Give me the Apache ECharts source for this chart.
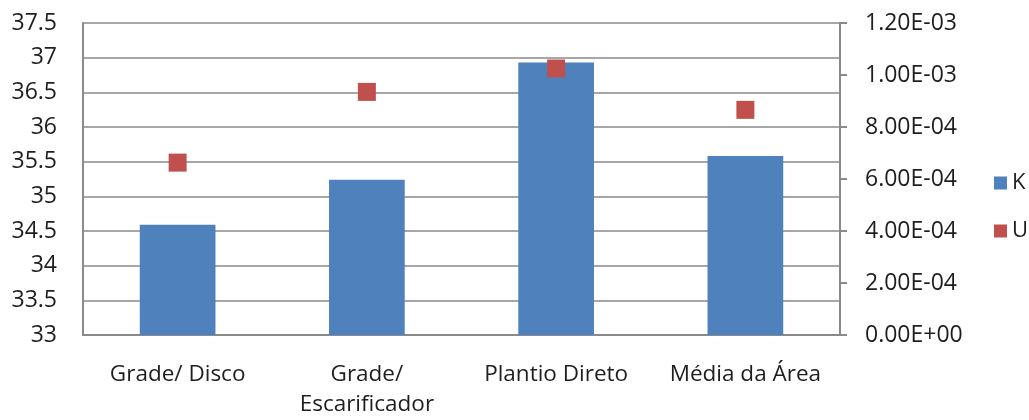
<!DOCTYPE html>
<html>
<head>
<meta charset="utf-8">
<script src="https://cdn.jsdelivr.net/npm/echarts@6/dist/echarts.min.js"></script>
<style>html,body{margin:0;padding:0;background:#fff}#c{width:1029px;height:420px}</style>
</head>
<body>
<div id="c"></div>
<script>
var categories = ['Grade/ Disco', 'Grade/\nEscarificador', 'Plantio Direto', 'Média da Área'];
var kValues = [34.59, 35.24, 36.93, 35.58];
var uValues = [0.000663, 0.000935, 0.001025, 0.000866];
var leftTicks = [33, 37.5, 0.5];
var rightTickLabels = ['0.00E+00', '2.00E-04', '4.00E-04', '6.00E-04', '8.00E-04', '1.00E-03', '1.20E-03'];
var seriesNames = ['K', 'U'];

var FONT = 'Open Sans';
var TXT = '#1e1e1e';
var chart = echarts.init(document.getElementById('c'), null, {renderer: 'canvas'});
chart.setOption({
  animation: false,
  textStyle: {fontFamily: FONT},
  grid: {left: 83, right: 189, top: 23, bottom: 78, containLabel: false},
  legend: {
    orient: 'vertical', left: 989, top: 167, itemGap: 26,
    itemWidth: 13, itemHeight: 13, itemTextGap: 6,
    textStyle: {fontSize: 22, color: TXT, fontFamily: FONT},
    data: [{name: seriesNames[0], icon: 'rect'}, {name: seriesNames[1], icon: 'rect'}]
  },
  xAxis: {
    type: 'category', data: categories,
    axisLine: {show: true, lineStyle: {color: '#8a8a8a', width: 2}},
    axisTick: {show: false},
    axisLabel: {fontSize: 22.5, color: TXT, margin: 25, lineHeight: 30, fontFamily: FONT, interval: 0}
  },
  yAxis: [{
    type: 'value', min: leftTicks[0], max: leftTicks[1], interval: leftTicks[2],
    axisLine: {show: true, lineStyle: {color: '#8a8a8a', width: 2}},
    axisTick: {show: false},
    splitLine: {show: true, lineStyle: {color: '#8a8a8a', width: 1.5}},
    axisLabel: {fontSize: 23, color: TXT, margin: 26, fontFamily: FONT}
  }, {
    type: 'value', min: 0, max: 0.0012, interval: 0.0002, position: 'right',
    axisLine: {show: true, lineStyle: {color: '#8a8a8a', width: 2}},
    axisTick: {show: true, inside: false, length: 7, lineStyle: {color: '#8a8a8a', width: 2}},
    splitLine: {show: false},
    axisLabel: {
      fontSize: 23, color: TXT, margin: 25, fontFamily: FONT,
      formatter: function (v) { return rightTickLabels[Math.round(v / 0.0002)]; }
    }
  }],
  series: [{
    name: seriesNames[0], type: 'bar', data: kValues, yAxisIndex: 0,
    barWidth: '40%', itemStyle: {color: '#4f81bd'}
  }, {
    name: seriesNames[1], type: 'scatter', data: uValues, yAxisIndex: 1,
    symbol: 'rect', symbolSize: 18, itemStyle: {color: '#c0504d', opacity: 1}
  }]
});
</script>
</body>
</html>
